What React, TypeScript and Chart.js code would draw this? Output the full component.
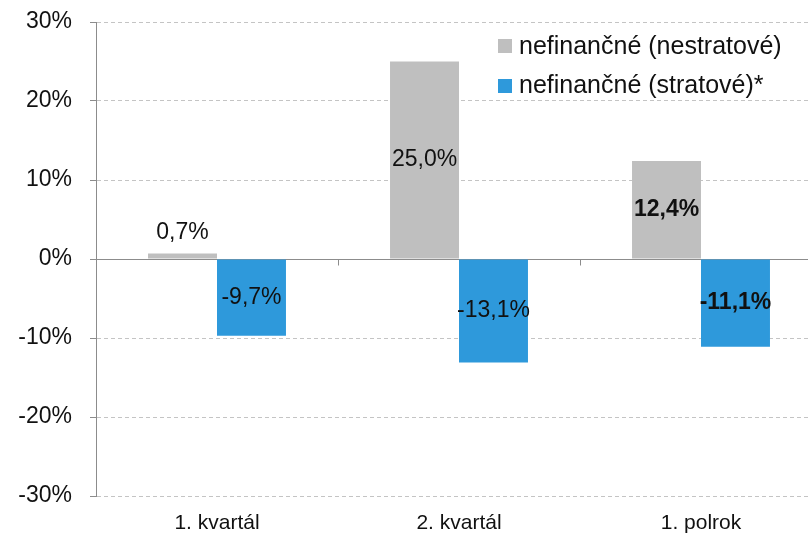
import React, { useEffect, useRef } from "react";
import { Chart, registerables } from "chart.js";
Chart.register(...registerables);

const categories = ["1. kvartál", "2. kvartál", "1. polrok"];
const seriesNames = ["nefinančné (nestratové)", "nefinančné (stratové)*"];
const profitable = [0.7, 25.0, 12.4];
const lossMaking = [-9.7, -13.1, -11.1];
const boldCategory = [false, false, true];
const yMin = -30;
const yMax = 30;
const yStep = 10;

const GRAY = "#BFBFBF";
const BLUE = "#2E99DB";
const FONT = "'Liberation Sans', Arial, sans-serif";

const fmt = (v: number) => v.toFixed(1).replace(".", ",") + "%";

const decorPlugin = {
  id: "decor",
  beforeDatasetsDraw(chart: any) {
    const { ctx, chartArea, scales } = chart;
    const y0 = Math.round(scales.y.getPixelForValue(0)) + 0.5;
    ctx.save();
    ctx.strokeStyle = "#8c8c8c";
    ctx.lineWidth = 1;
    ctx.setLineDash([]);
    ctx.beginPath();
    ctx.moveTo(chartArea.left, y0);
    ctx.lineTo(chartArea.right, y0);
    const n = categories.length;
    const w = (chartArea.right - chartArea.left) / n;
    for (let i = 1; i <= n; i++) {
      const x = Math.round(chartArea.left + w * i) + 0.5;
      ctx.moveTo(x, y0);
      ctx.lineTo(x, y0 + 6);
    }
    ctx.stroke();
    ctx.restore();
  },
  afterDatasetsDraw(chart: any) {
    const { ctx } = chart;
    ctx.save();
    ctx.fillStyle = "#111";
    ctx.textAlign = "center";
    ctx.textBaseline = "middle";
    chart.data.datasets.forEach((ds: any, di: number) => {
      const meta = chart.getDatasetMeta(di);
      meta.data.forEach((el: any, i: number) => {
        const { x, y, base } = el.getProps(["x", "y", "base"], true);
        const v = ds.data[i];
        ctx.font = (boldCategory[i] ? "bold " : "") + "23px " + FONT;
        let ty;
        if (Math.abs(base - y) < 30) {
          ty = v >= 0 ? y - 21 : y + 21;
        } else {
          ty = (y + base) / 2;
        }
        ctx.fillText(fmt(v), x, ty);
      });
    });
    ctx.restore();
  },
  afterDraw(chart: any) {
    const { ctx } = chart;
    const colors = [GRAY, BLUE];
    ctx.save();
    ctx.font = "25px " + FONT;
    ctx.textBaseline = "middle";
    ctx.textAlign = "left";
    seriesNames.forEach((name, i) => {
      const cy = 46 + i * 39.5;
      ctx.fillStyle = colors[i];
      ctx.fillRect(498, Math.round(cy - 7), 14, 14);
      ctx.fillStyle = "#111";
      ctx.fillText(name, 519, cy + 1);
    });
    ctx.restore();
  },
};

export default function App() {
  const ref = useRef<HTMLCanvasElement>(null);
  useEffect(() => {
    document.body.style.margin = "0";
    const chart = new Chart(ref.current!, {
      type: "bar",
      data: {
        labels: categories,
        datasets: [
          { label: seriesNames[0], data: profitable, backgroundColor: GRAY, categoryPercentage: 0.57, barPercentage: 1 },
          { label: seriesNames[1], data: lossMaking, backgroundColor: BLUE, categoryPercentage: 0.57, barPercentage: 1 },
        ],
      },
      options: {
        responsive: false,
        animation: false,
        layout: { padding: { top: 22, right: 0, left: 0, bottom: 0 } },
        plugins: { legend: { display: false }, tooltip: { enabled: false } },
        scales: {
          x: {
            grid: { display: false },
            border: { display: false },
            ticks: { color: "#111", font: { family: FONT, size: 21 }, padding: 7 },
            afterFit: (s: any) => { s.height = 37; s.paddingLeft = 0; s.paddingRight = 0; },
          },
          y: {
            min: yMin,
            max: yMax,
            ticks: {
              stepSize: yStep,
              color: "#111",
              padding: 18,
              font: { family: FONT, size: 23 },
              callback: (v: any) => v + "%",
            },
            grid: {
              color: (c: any) => (c.tick && c.tick.value === 0 ? "rgba(0,0,0,0)" : "#c4c4c4"),
              tickColor: "#8c8c8c",
              tickLength: 6,
              lineWidth: 1,
            },
            border: { display: true, color: "#8c8c8c", width: 1, dash: [4, 3] },
            afterFit: (s: any) => { s.width = 96; s.paddingTop = 0; s.paddingBottom = 0; },
          },
        },
      },
      plugins: [decorPlugin],
    });
    return () => chart.destroy();
  }, []);
  return (
    <div style={{ position: "absolute", left: 0, top: 0, width: 808, height: 533, overflow: "hidden", background: "#fff" }}>
      <canvas ref={ref} width={822} height={533} style={{ display: "block" }} />
    </div>
  );
}
